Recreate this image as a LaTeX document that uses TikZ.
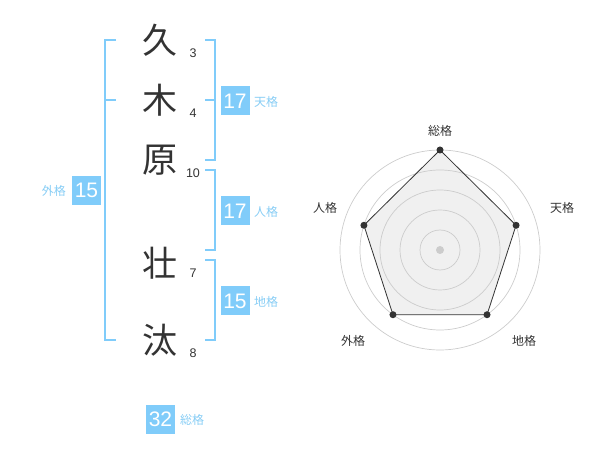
\documentclass[tikz,border=0pt]{standalone}
\usepackage{fontspec}
\setmainfont{Liberation Sans}
\newfontfamily\cjk{Noto Sans CJK JP}
\definecolor{boxblue}{RGB}{128,204,250}
\definecolor{labblue}{RGB}{135,205,245}
\definecolor{ink}{RGB}{51,51,51}
\definecolor{gridgray}{RGB}{204,204,204}
\definecolor{fillgray}{RGB}{240,240,240}
\begin{document}
\begin{tikzpicture}[x=1pt,y=-1pt,
  kanji/.style={inner sep=0pt,text=ink,font=\cjk\fontsize{35}{35}\selectfont},
  num/.style={inner sep=0pt,text=ink,font=\fontsize{12.5}{12.5}\selectfont},
  scorebox/.style={fill=boxblue,text=white,minimum size=29pt,inner sep=0pt,font=\fontsize{21}{21}\selectfont},
  lab/.style={inner sep=0pt,text=labblue,font=\cjk\fontsize{12}{12}\selectfont},
  brk/.style={draw=boxblue,line width=2pt},
  rlab/.style={inner sep=0pt,text=ink,font=\cjk\fontsize{12}{12}\selectfont},
  ring/.style={draw=gridgray,line width=0.7pt},
  dot/.style={circle,fill=ink,inner sep=0pt,minimum size=7pt}]
\useasboundingbox (0,0) rectangle (600,470);
% characters
\node[kanji] (k1) at (160,40) {久};
\node[kanji] (k2) at (160,100) {木};
\node[kanji] (k3) at (160,160) {原};
\node[kanji] (k4) at (160,263) {壮};
\node[kanji] (k5) at (160,340) {汰};
\node[num] (n1) at (193,53) {3};
\node[num] (n2) at (193,113) {4};
\node[num] (n3) at (193,173) {10};
\node[num] (n4) at (193,273) {7};
\node[num] (n5) at (193,353) {8};
% brackets
\draw[brk] (116,40) -- (105,40) -- (105,340) -- (116,340);
\draw[brk] (105,100) -- (116,100);
\draw[brk] (205,40) -- (215,40) -- (215,160) -- (205,160);
\draw[brk] (205,100) -- (215,100);
\draw[brk] (205,170) -- (215,170) -- (215,250) -- (205,250);
\draw[brk] (205,260) -- (215,260) -- (215,340) -- (205,340);
% score boxes
\node[scorebox] (b1) at (235,101) {17};
\node[lab,anchor=west] (l1) at (254,102) {天格};
\node[scorebox] (b2) at (235,211) {17};
\node[lab,anchor=west] (l2) at (254,212) {人格};
\node[scorebox] (b3) at (235,301) {15};
\node[lab,anchor=west] (l3) at (254,302) {地格};
\node[scorebox] (b4) at (86.5,190.5) {15};
\node[lab,anchor=east] (l4) at (66,191) {外格};
\node[scorebox] (b5) at (160.5,419) {32};
\node[lab,anchor=west] (l5) at (180,420) {総格};
% radar
\begin{scope}[shift={(440,250)},yscale=-1]
  \coordinate (p1) at (90:100);
  \coordinate (p2) at (18:80);
  \coordinate (p3) at (-54:80);
  \coordinate (p4) at (-126:80);
  \coordinate (p5) at (162:80);
  \fill[fillgray] (p1) -- (p2) -- (p3) -- (p4) -- (p5) -- cycle;
  \foreach \r in {20,40,60,80,100} \draw[ring] (0,0) circle (\r);
  \draw[ink,line width=0.8pt] (p1) -- (p2) -- (p3) -- (p4) -- (p5) -- cycle;
  \node[circle,fill=gridgray,inner sep=0pt,minimum size=8pt] (c0) at (0,0) {};
  \foreach \p in {p1,p2,p3,p4,p5} \node[dot] at (\p) {};
\end{scope}
\node[rlab] (r1) at (440,131) {総格};
\node[rlab] (r2) at (562,208) {天格};
\node[rlab] (r3) at (524,341) {地格};
\node[rlab] (r4) at (353,341) {外格};
\node[rlab] (r5) at (325,208) {人格};
\end{tikzpicture}
\end{document}
